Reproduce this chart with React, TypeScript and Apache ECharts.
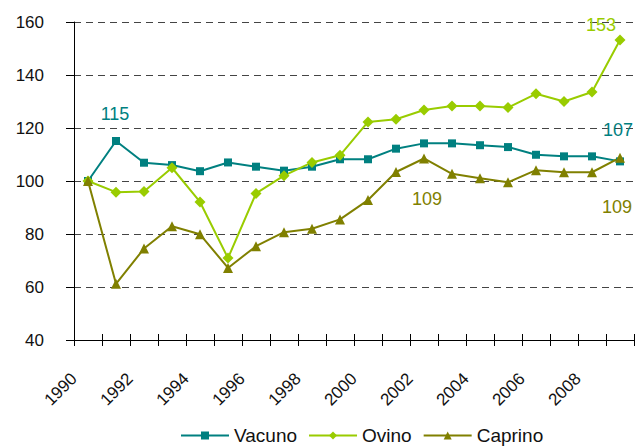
import React, { useEffect, useRef } from "react";
import * as echarts from "echarts";

const years = [
  "1990", "1991", "1992", "1993", "1994", "1995", "1996", "1997", "1998", "1999",
  "2000", "2001", "2002", "2003", "2004", "2005", "2006", "2007", "2008", "2009",
];
// tick boundaries of the category axis (labels sit on the boundaries)
const tickYears = [
  "1990", "1991", "1992", "1993", "1994", "1995", "1996", "1997", "1998", "1999",
  "2000", "2001", "2002", "2003", "2004", "2005", "2006", "2007", "2008", "2009", "2010",
];
const shownTickLabels = ["1990", "1992", "1994", "1996", "1998", "2000", "2002", "2004", "2006", "2008"];

const vacuno = [100, 115.1, 106.9, 106, 103.7, 107, 105.4, 103.9, 105.4, 108.2,
  108.2, 112.2, 114.2, 114.2, 113.5, 112.8, 109.9, 109.3, 109.3, 107.4];
const ovino = [100, 95.8, 96, 105, 92.1, 70.9, 95.3, 102, 107, 109.7,
  122.3, 123.3, 126.8, 128.3, 128.3, 127.7, 132.9, 130, 133.6, 153.2];
const caprino = [100, 61.2, 74.5, 82.9, 79.9, 67.2, 75.4, 80.7, 82, 85.5,
  92.8, 103.4, 108.5, 102.7, 101, 99.5, 104.1, 103.3, 103.3, 108.8];

const yTicks = { min: 40, max: 160, interval: 20 };

const FONT = "'Liberation Sans', Arial, sans-serif";
const C_VAC = "#008080";
const C_OVI = "#99CC00";
const C_CAP = "#808000";

type Lbl = { idx: number; offset: [number, number] };

function buildData(vals: number[], labels: Lbl[], color: string) {
  return vals.map((v, i) => {
    const l = labels.find((x) => x.idx === i);
    if (!l) return v;
    return {
      value: v,
      label: {
        show: true,
        position: "inside",
        offset: l.offset,
        color,
        fontSize: 18,
        fontFamily: FONT,
        formatter: (p: any) => String(Math.round(p.value)),
      },
    };
  });
}

export default function App() {
  const ref = useRef<HTMLDivElement>(null);
  useEffect(() => {
    if (!ref.current) return;
    const chart = echarts.init(ref.current, undefined, { renderer: "svg" });
    const lineSeries = (name: string, data: any[], color: string, symbol: string, size: number) => ({
      name,
      type: "line",
      xAxisIndex: 0,
      data,
      symbol,
      symbolSize: size,
      showAllSymbol: true,
      lineStyle: { color, width: 2 },
      itemStyle: { color },
      emphasis: { disabled: true },
    });
    chart.setOption({
      animation: false,
      backgroundColor: "#ffffff",
      grid: { left: 74, right: 10, top: 22, bottom: 107, containLabel: false },
      legend: {
        left: 175,
        top: 421,
        itemWidth: 48,
        itemHeight: 10,
        itemGap: 11,
        textStyle: { fontSize: 19, color: "#111", fontFamily: FONT },
        data: ["Vacuno", "Ovino", "Caprino"],
      },
      xAxis: [
        {
          type: "category",
          data: years,
          boundaryGap: true,
          position: "bottom",
          axisLine: { show: true, lineStyle: { color: "#000", width: 1 } },
          axisTick: { show: true, inside: false, length: 6, interval: 0, lineStyle: { color: "#000" } },
          axisLabel: { show: false },
          splitLine: { show: false },
        },
        {
          type: "category",
          data: tickYears,
          boundaryGap: false,
          position: "bottom",
          axisLine: { show: false },
          axisTick: { show: true, inside: true, length: 6, interval: 0, lineStyle: { color: "#000" } },
          axisLabel: {
            show: true,
            interval: 0,
            rotate: 45,
            margin: 36,
            fontSize: 17,
            color: "#111",
            fontFamily: FONT,
            formatter: (v: string) => (shownTickLabels.includes(v) ? v : ""),
          },
          splitLine: { show: false },
        },
      ],
      yAxis: {
        type: "value",
        min: yTicks.min,
        max: yTicks.max,
        interval: yTicks.interval,
        axisLine: { show: true, lineStyle: { color: "#000", width: 1 } },
        axisTick: { show: true, length: 8, lineStyle: { color: "#000" } },
        axisLabel: { margin: 30, fontSize: 17, color: "#111", fontFamily: FONT },
        splitLine: { show: true, lineStyle: { color: "#444", width: 1, type: [7, 5] } },
      },
      series: [
        lineSeries("Vacuno", buildData(vacuno, [{ idx: 1, offset: [-1, -27] }, { idx: 19, offset: [-2, -31] }], C_VAC), C_VAC, "rect", 8),
        lineSeries("Ovino", buildData(ovino, [{ idx: 19, offset: [-19, -15] }], C_OVI), C_OVI, "diamond", 11),
        lineSeries("Caprino", buildData(caprino, [{ idx: 12, offset: [3, 41] }, { idx: 19, offset: [-3, 49] }], C_CAP), C_CAP, "triangle", 10),
      ],
    });
    return () => chart.dispose();
  }, []);
  return (
    <div
      ref={ref}
      style={{ position: "fixed", left: 0, top: 0, width: 644, height: 447, background: "#fff" }}
    />
  );
}
